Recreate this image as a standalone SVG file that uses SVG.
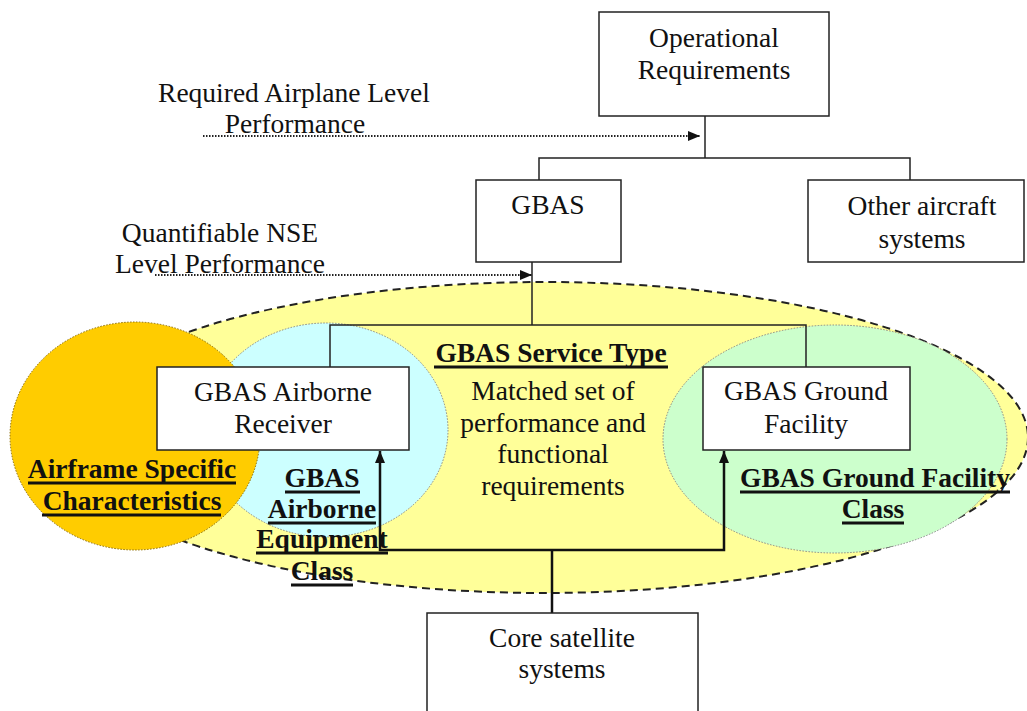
<svg xmlns="http://www.w3.org/2000/svg" width="1027" height="711" viewBox="0 0 1027 711">
<style>
.box{fill:#fff;stroke:#222;stroke-width:1.5}
.t{font-family:"Liberation Serif","Times New Roman",serif;font-size:27.5px;fill:#111;text-anchor:middle}
.b{font-weight:bold}
.ul{stroke:#111;stroke-width:3}
.ln{fill:none;stroke:#222;stroke-width:1.5}
.thick{fill:none;stroke:#111;stroke-width:2.5}
.dot{fill:none;stroke:#222;stroke-width:1.8;stroke-dasharray:1.5 1.5}
</style>
<defs>
<marker id="ah" viewBox="0 0 12 10" refX="12" refY="5" markerWidth="12" markerHeight="10" markerUnits="userSpaceOnUse" orient="auto">
<path d="M0,0 L12,5 L0,10 Z" fill="#111"/>
</marker>
</defs>
<rect width="1027" height="711" fill="#fff"/>
<g id="regions">
<ellipse id="service-region" cx="544" cy="437.5" rx="484" ry="155.5" fill="#FFFF99" stroke="#222" stroke-width="2" stroke-dasharray="8 5"/>
<ellipse id="airborne-region" cx="326" cy="430" rx="122" ry="107" fill="#CCFFFF" stroke="#888" stroke-width="1" stroke-dasharray="1.5 1.5"/>
<ellipse id="ground-region" cx="835" cy="439" rx="172" ry="114" fill="#CCFFCC" stroke="#888" stroke-width="1" stroke-dasharray="1.5 1.5"/>
<ellipse id="airframe-region" cx="135" cy="436" rx="125" ry="114" fill="#FFCC00" stroke="#8a6a00" stroke-width="1" stroke-dasharray="1.5 1.5"/>
</g>
<g id="region-labels">
<text class="t b" x="551" y="362">GBAS Service Type</text>
<line class="ul" x1="434" y1="367" x2="668" y2="367"/>
<text class="t" x="553" y="400">Matched set of</text>
<text class="t" x="553" y="432">performance and</text>
<text class="t" x="553" y="463">functional</text>
<text class="t" x="553" y="495">requirements</text>
<text class="t b" x="132" y="478">Airframe Specific</text>
<line class="ul" x1="28" y1="483" x2="236" y2="483"/>
<text class="t b" x="132" y="510">Characteristics</text>
<line class="ul" x1="42" y1="515" x2="221" y2="515"/>
<text class="t b" x="322" y="487">GBAS</text>
<line class="ul" x1="285" y1="492" x2="360" y2="492"/>
<text class="t b" x="322" y="518">Airborne</text>
<line class="ul" x1="268" y1="523" x2="376" y2="523"/>
<text class="t b" x="322" y="548">Equipment</text>
<line class="ul" x1="256" y1="553" x2="388" y2="553"/>
<text class="t b" x="322" y="580">Class</text>
<line class="ul" x1="291" y1="585" x2="353" y2="585"/>
<text class="t b" x="875" y="487">GBAS Ground Facility</text>
<line class="ul" x1="740" y1="492" x2="1010" y2="492"/>
<text class="t b" x="873" y="518">Class</text>
<line class="ul" x1="842" y1="523" x2="904" y2="523"/>
<text class="t" x="294" y="102">Required Airplane Level</text>
<text class="t" x="295" y="133">Performance</text>
<text class="t" x="220" y="242">Quantifiable NSE</text>
<text class="t" x="220" y="273">Level Performance</text>
</g>
<g id="connectors">
<polyline class="ln" points="705,116 705,158"/>
<polyline class="ln" points="539,180 539,158 910,158 910,180"/>
<polyline class="ln" points="532,262 532,325"/>
<polyline class="ln" points="330,367 330,325 806,325 806,367"/>
<polyline class="thick" points="552,613 552,550"/>
<polyline class="thick" points="552,550 380,550 380,451" marker-end="url(#ah)"/>
<polyline class="thick" points="552,550 724,550 724,451" marker-end="url(#ah)"/>
<line class="dot" x1="203" y1="136" x2="700" y2="136" marker-end="url(#ah)"/>
<line class="dot" x1="155" y1="275" x2="532" y2="275" marker-end="url(#ah)"/>
</g>
<g id="op-req">
<rect class="box" x="599" y="12" width="230" height="104"/>
<text class="t" x="714" y="47">Operational</text>
<text class="t" x="714" y="79">Requirements</text>
</g>
<g id="gbas">
<rect class="box" x="476" y="180" width="145" height="82"/>
<text class="t" x="548" y="214">GBAS</text>
</g>
<g id="other">
<rect class="box" x="808" y="180" width="216" height="82"/>
<text class="t" x="922" y="215">Other aircraft</text>
<text class="t" x="922" y="248">systems</text>
</g>
<g id="airborne-receiver">
<rect class="box" x="157" y="367" width="252" height="83"/>
<text class="t" x="283" y="401">GBAS Airborne</text>
<text class="t" x="283" y="433">Receiver</text>
</g>
<g id="ground-facility">
<rect class="box" x="703" y="367" width="207" height="83"/>
<text class="t" x="806" y="400">GBAS Ground</text>
<text class="t" x="806" y="433">Facility</text>
</g>
<g id="core">
<rect class="box" x="427" y="613" width="271" height="110"/>
<text class="t" x="562" y="647">Core satellite</text>
<text class="t" x="562" y="678">systems</text>
</g>
</svg>
